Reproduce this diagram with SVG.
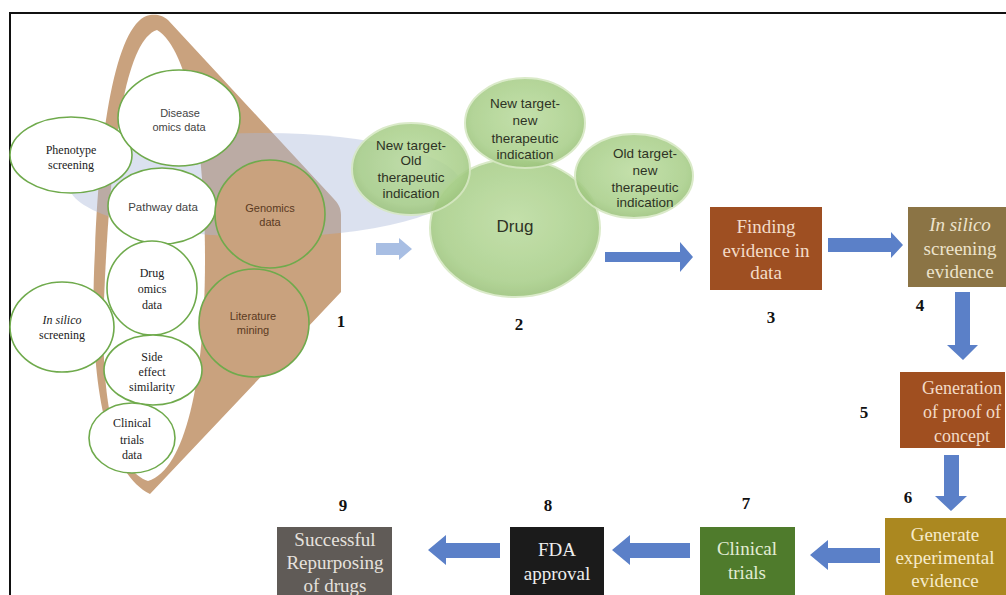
<svg xmlns="http://www.w3.org/2000/svg" width="1006" height="595" viewBox="0 0 1006 595">
<defs>
<style>
.src{fill:#fff;stroke:#6FAA4C;stroke-width:1.6}
.srcT{fill:#C9A27E;stroke:#6FAA4C;stroke-width:1.6}
.ts{font-family:"Liberation Serif",serif;font-size:12px;fill:#222;text-anchor:middle}
.tn{font-family:"Liberation Sans",Arial,sans-serif;font-size:11px;fill:#444;text-anchor:middle}
.tb{font-family:"Liberation Sans",Arial,sans-serif;font-size:11px;fill:#5A3A22;text-anchor:middle}
.g{fill:url(#gg);stroke:#D6E8C2;stroke-width:2;opacity:0.88}
.tg{font-family:"Liberation Sans",Arial,sans-serif;font-size:13.5px;fill:#2E3325;text-anchor:middle}
.num{font-family:"Liberation Serif",serif;font-size:17px;font-weight:bold;fill:#111;text-anchor:middle}
.bx{font-family:"Liberation Serif",serif;font-size:19px;text-anchor:middle}
.arr{fill:#5B80C8}
</style>
<radialGradient id="gg" cx="0.5" cy="0.45" r="0.55">
<stop offset="0" stop-color="#BCDCA0"/>
<stop offset="0.8" stop-color="#A9CF8A"/>
<stop offset="1" stop-color="#9CC37C"/>
</radialGradient>
</defs>
<rect x="0" y="0" width="1006" height="595" fill="#fff"/>
<path d="M10,595 L10,13 L1006,13" fill="none" stroke="#111" stroke-width="2"/>

<g id="funnel">
<path d="M150,15 C118,20 100,120 95,250 C88,380 105,470 150,494 L341,292 L341,215 C341,208 338,203 333,198 L168,20 C163,15 156,14 150,15 Z" fill="#C9A27E"/>
<path d="M157,30 C125,40 110,150 104,300 C100,400 115,470 148,481 C185,470 205,380 205,260 C205,150 190,50 157,30 Z" fill="#fff"/>
<ellipse cx="265" cy="185" rx="196" ry="52" fill="#A9B8D8" opacity="0.42"/>
</g>

<g id="node-phenotype"><ellipse class="src" cx="71" cy="155" rx="61" ry="38"/><text class="ts" x="71" y="154">Phenotype</text><text class="ts" x="71" y="169">screening</text></g>
<g id="node-disease"><ellipse class="src" cx="179" cy="118" rx="61" ry="48"/><text class="tn" x="180" y="117">Disease</text><text class="tn" x="179" y="131">omics data</text></g>
<g id="node-pathway"><ellipse class="src" cx="162" cy="206" rx="54" ry="38"/><text class="tn" x="163" y="211" style="font-size:11.5px">Pathway data</text></g>
<g id="node-genomics"><ellipse class="srcT" cx="270" cy="214" rx="55" ry="54"/><text class="tb" x="270" y="212">Genomics</text><text class="tb" x="270" y="226">data</text></g>
<g id="node-drugomics"><ellipse class="src" cx="152" cy="288" rx="45" ry="47"/><text class="ts" x="152" y="277">Drug</text><text class="ts" x="152" y="293">omics</text><text class="ts" x="152" y="309">data</text></g>
<g id="node-insilico"><ellipse class="src" cx="62" cy="327" rx="52" ry="45"/><text class="ts" x="62" y="324" font-style="italic">In silico</text><text class="ts" x="62" y="339">screening</text></g>
<g id="node-literature"><ellipse class="srcT" cx="254" cy="323" rx="55" ry="54"/><text class="tb" x="253" y="320">Literature</text><text class="tb" x="253" y="334">mining</text></g>
<g id="node-sideeffect"><ellipse class="src" cx="153" cy="370" rx="49" ry="35"/><text class="ts" x="152" y="361">Side</text><text class="ts" x="152" y="376">effect</text><text class="ts" x="152" y="391">similarity</text></g>
<g id="node-clinicaldata"><ellipse class="src" cx="132" cy="438" rx="43" ry="35"/><text class="ts" x="132" y="427">Clinical</text><text class="ts" x="132" y="444">trials</text><text class="ts" x="132" y="459">data</text></g>

<g id="node-drug">
<ellipse class="g" cx="515" cy="228" rx="85" ry="69"/>
<ellipse class="g" cx="411" cy="169" rx="59" ry="46"/>
<ellipse class="g" cx="525" cy="123" rx="60" ry="45"/>
<ellipse class="g" cx="634" cy="176" rx="59" ry="42"/>
<text class="tg" x="515" y="232" style="font-size:17px">Drug</text>
<text class="tg" x="411" y="150">New target-</text><text class="tg" x="411" y="165">Old</text><text class="tg" x="411" y="182">therapeutic</text><text class="tg" x="411" y="198">indication</text>
<text class="tg" x="525" y="108">New target-</text><text class="tg" x="525" y="125">new</text><text class="tg" x="525" y="143">therapeutic</text><text class="tg" x="525" y="159">indication</text>
<text class="tg" x="645" y="158">Old target-</text><text class="tg" x="645" y="175">new</text><text class="tg" x="645" y="192">therapeutic</text><text class="tg" x="645" y="207">indication</text>
</g>

<g id="node-3"><rect x="710" y="207" width="112" height="83" fill="#9E4F22"/><text class="bx" fill="#F3DCC8" x="766" y="233">Finding</text><text class="bx" fill="#F3DCC8" x="766" y="257">evidence in</text><text class="bx" fill="#F3DCC8" x="766" y="279">data</text></g>
<g id="node-4"><rect x="908" y="207" width="100" height="80" fill="#8B7445"/><text class="bx" fill="#EDE3CC" x="960" y="231" font-style="italic">In silico</text><text class="bx" fill="#EDE3CC" x="960" y="255">screening</text><text class="bx" fill="#EDE3CC" x="960" y="278">evidence</text></g>
<g id="node-5"><rect x="900" y="372" width="105" height="76" fill="#A04F20"/><text class="bx" fill="#F3DCC8" x="962" y="394" style="font-size:18px">Generation</text><text class="bx" fill="#F3DCC8" x="962" y="418" style="font-size:18px">of proof of</text><text class="bx" fill="#F3DCC8" x="962" y="442" style="font-size:18px">concept</text></g>
<g id="node-6"><rect x="885" y="518" width="125" height="80" fill="#AB8820"/><text class="bx" fill="#F6EBCB" x="945" y="541">Generate</text><text class="bx" fill="#F6EBCB" x="945" y="564">experimental</text><text class="bx" fill="#F6EBCB" x="945" y="587">evidence</text></g>
<g id="node-7"><rect x="700" y="527" width="95" height="70" fill="#4F7B2C"/><text class="bx" fill="#E2ECD4" x="747" y="555">Clinical</text><text class="bx" fill="#E2ECD4" x="747" y="579">trials</text></g>
<g id="node-8"><rect x="510" y="527" width="94" height="70" fill="#1B1B1B"/><text class="bx" fill="#EEE" x="557" y="556">FDA</text><text class="bx" fill="#EEE" x="557" y="580">approval</text></g>
<g id="node-9"><rect x="277" y="527" width="115" height="70" fill="#605B57"/><text class="bx" fill="#E6E2DE" x="335" y="546">Successful</text><text class="bx" fill="#E6E2DE" x="335" y="569">Repurposing</text><text class="bx" fill="#E6E2DE" x="335" y="592">of drugs</text></g>

<g id="labels">
<text class="num" x="341" y="327">1</text>
<text class="num" x="519" y="330">2</text>
<text class="num" x="771" y="323">3</text>
<text class="num" x="920" y="311">4</text>
<text class="num" x="864" y="418">5</text>
<text class="num" x="908" y="503">6</text>
<text class="num" x="746" y="509">7</text>
<text class="num" x="548" y="511">8</text>
<text class="num" x="343" y="511">9</text>
</g>

<g id="connectors">
<polygon fill="#A8BEE3" points="376,243 399,243 399,238 412,249 399,260 399,255 376,255"/>
<polygon class="arr" points="605,252 680,252 680,242 693,257 680,272 680,262 605,262"/>
<polygon class="arr" points="828,238 891,238 891,232 903,245 891,258 891,252 828,252"/>
<polygon class="arr" points="955,292 970,292 970,345 978,345 963,360 947,345 955,345"/>
<polygon class="arr" points="944,455 959,455 959,496 967,496 951,511 935,496 944,496"/>
<polygon class="arr" points="880,548 828,548 828,540 810,555 828,570 828,563 880,563"/>
<polygon class="arr" points="690,543 630,543 630,535 612,550 630,565 630,558 690,558"/>
<polygon class="arr" points="500,543 446,543 446,535 428,550 446,565 446,558 500,558"/>
</g>
</svg>
